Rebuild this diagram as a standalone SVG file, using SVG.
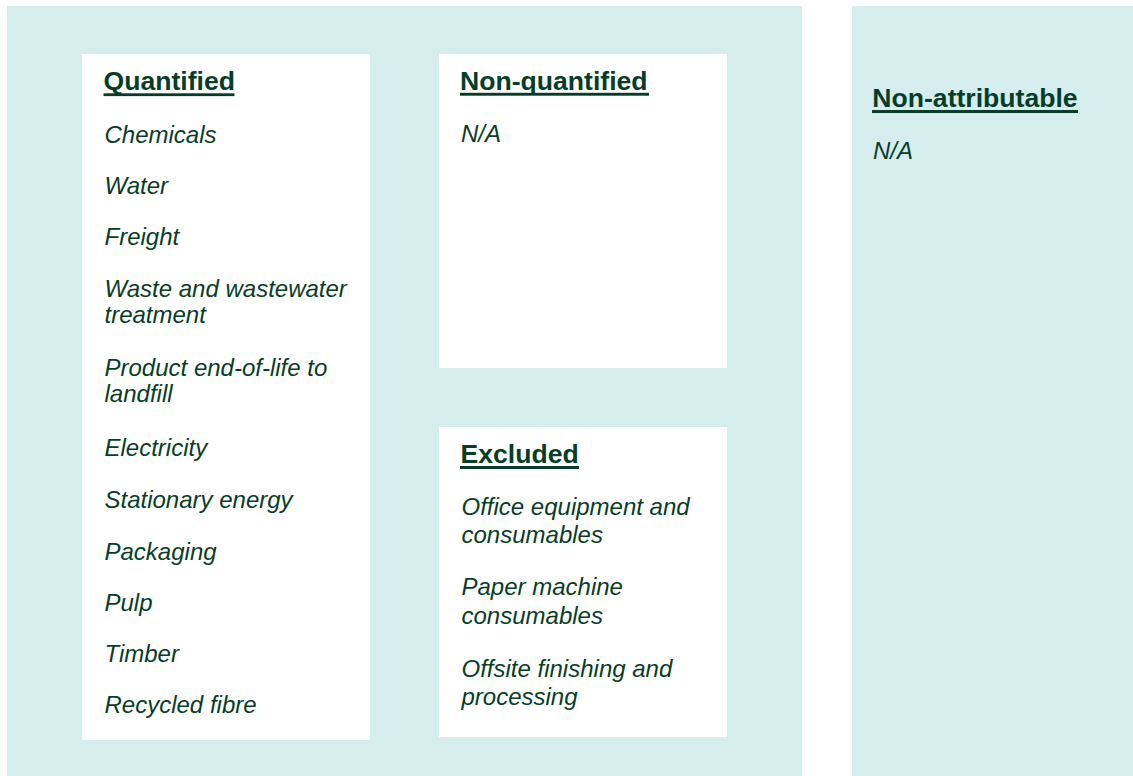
<svg xmlns="http://www.w3.org/2000/svg" width="1133" height="776" viewBox="0 0 1133 776">
<style>
.bg{fill:#d5eded}
.box{fill:#ffffff}
.h{font-family:"Liberation Sans",Arial,sans-serif;font-weight:bold;font-size:26.6px;fill:#073d28}
.t{font-family:"Liberation Sans",Arial,sans-serif;font-style:italic;font-size:24px;fill:#073d28}
.u{fill:#073d28}
</style>
<rect width="1133" height="776" fill="#ffffff"/>
<g id="panel-main"><rect class="bg" x="7" y="6" width="795" height="770"/></g>
<g id="panel-nonattributable">
<rect class="bg" x="852" y="6" width="281" height="770"/>
<text class="h" x="872.3" y="106.7">Non-attributable</text>
<rect class="u" x="872" y="110" width="206" height="3"/>
<text class="t" x="873" y="159">N/A</text>
</g>
<g id="node-quantified">
<rect class="box" x="82" y="54" width="288" height="686"/>
<text class="h" x="103.5" y="90">Quantified</text>
<rect class="u" x="103.5" y="93.3" width="131" height="2.8"/>
<text class="t" x="104.5" y="142.7">Chemicals</text>
<text class="t" x="104.5" y="193.5">Water</text>
<text class="t" x="104.5" y="245">Freight</text>
<text class="t" x="104.5" y="296.7">Waste and wastewater</text>
<text class="t" x="104.5" y="323.3">treatment</text>
<text class="t" x="104.5" y="375.7">Product end-of-life to</text>
<text class="t" x="104.5" y="402.3">landfill</text>
<text class="t" x="104.5" y="456">Electricity</text>
<text class="t" x="104.5" y="508">Stationary energy</text>
<text class="t" x="104.5" y="560">Packaging</text>
<text class="t" x="104.5" y="611">Pulp</text>
<text class="t" x="104.5" y="662.3">Timber</text>
<text class="t" x="104.5" y="712.7">Recycled fibre</text>
</g>
<g id="node-nonquantified">
<rect class="box" x="439" y="54" width="288" height="314"/>
<text class="h" x="460" y="90">Non-quantified</text>
<rect class="u" x="460" y="92.8" width="189" height="2.9"/>
<text class="t" x="461" y="141.7">N/A</text>
</g>
<g id="node-excluded">
<rect class="box" x="439" y="427" width="288" height="310"/>
<text class="h" x="460.5" y="463.3">Excluded</text>
<rect class="u" x="460" y="466" width="119" height="3"/>
<text class="t" x="461.5" y="515">Office equipment and</text>
<text class="t" x="461.5" y="543.3">consumables</text>
<text class="t" x="461.5" y="595">Paper machine</text>
<text class="t" x="461.5" y="624">consumables</text>
<text class="t" x="461.5" y="676.7">Offsite finishing and</text>
<text class="t" x="461.5" y="705">processing</text>
</g>
<g id="connectors"></g>
</svg>
